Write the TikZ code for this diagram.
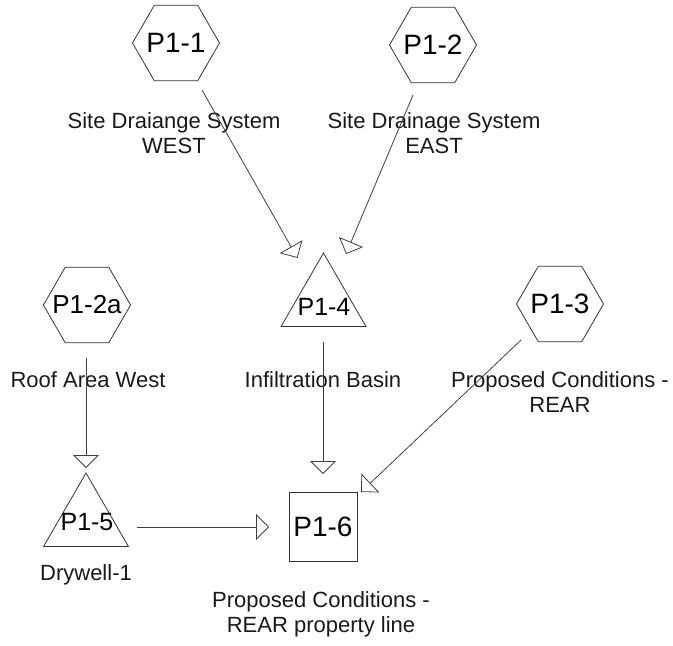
\documentclass[tikz,border=0pt]{standalone}
\usepackage{fontspec}
\setmainfont{Liberation Sans}
\usetikzlibrary{shapes.geometric,arrows.meta}
\begin{document}
\begin{tikzpicture}[x=1pt,y=-1pt,
  hexnode/.style={draw=black!80, line width=0.8pt, regular polygon, regular polygon sides=6, minimum size=87pt, inner sep=-8pt, font=\fontsize{28}{30}\selectfont},
  trinode/.style={draw=black!80, line width=0.8pt, regular polygon, regular polygon sides=3, minimum size=98pt, inner sep=0pt},
  trilabel/.style={inner sep=0pt, font=\fontsize{25}{27}\selectfont},
  sqnode/.style={draw=black!80, line width=0.8pt, minimum width=68pt, minimum height=69pt, inner sep=0pt, font=\fontsize{28}{30}\selectfont},
  caption/.style={inner sep=0pt, align=center, font=\fontsize{22}{25}\selectfont, text=black!90},
  flow/.style={draw=black!75, line width=0.8pt, -{Triangle[open, length=13pt, width=26pt, line width=0.8pt]}}
]
\useasboundingbox (0,0) rectangle (673,646);

% hexagons
\node[hexnode] (p11) at (176,43) {P1-1};
\node[hexnode] (p12) at (433,45) {P1-2};
\node[hexnode, font=\fontsize{26}{28}\selectfont] (p12a) at (87,305) {P1-2a};
\node[hexnode] (p13) at (560,304) {P1-3};

% triangles
\node[trinode] (t14) at (323.5,302) {};
\node[trilabel] (p14) at (324,307) {P1-4};
\node[trinode] (t15) at (86,522) {};
\node[trilabel] (p15) at (87,522) {P1-5};

% square
\node[sqnode] (p16) at (323,527) {P1-6};

% captions
\node[caption] (c11) at (174,133.5) {Site Draiange System\\WEST};
\node[caption] (c12) at (434,133.5) {Site Drainage System\\EAST};
\node[caption] (c12a) at (88,380) {Roof Area West};
\node[caption] (c14) at (323,380) {Infiltration Basin};
\node[caption] (c13) at (560,392.5) {Proposed Conditions -\\REAR};
\node[caption] (c15) at (86,575) {Drywell-1};
\node[caption] (c16) at (321,614.5) {Proposed Conditions -\\REAR property line};

% connector end points
\coordinate (s11) at (202,90);
\coordinate (e11) at (297.5,258);
\coordinate (s12) at (413,95);
\coordinate (e12) at (346,254);
\coordinate (s12a) at (86,358);
\coordinate (e12a) at (86,468);
\coordinate (s14) at (323,342);
\coordinate (e14) at (323,474);
\coordinate (s13) at (521,340);
\coordinate (e13) at (361,492);
\coordinate (s15) at (137,527);
\coordinate (e15) at (269,527);

\draw[flow] (s11) -- (e11);
\draw[flow] (s12) -- (e12);
\draw[flow] (s12a) -- (e12a);
\draw[flow] (s14) -- (e14);
\draw[flow] (s13) -- (e13);
\draw[flow] (s15) -- (e15);
\end{tikzpicture}
\end{document}
